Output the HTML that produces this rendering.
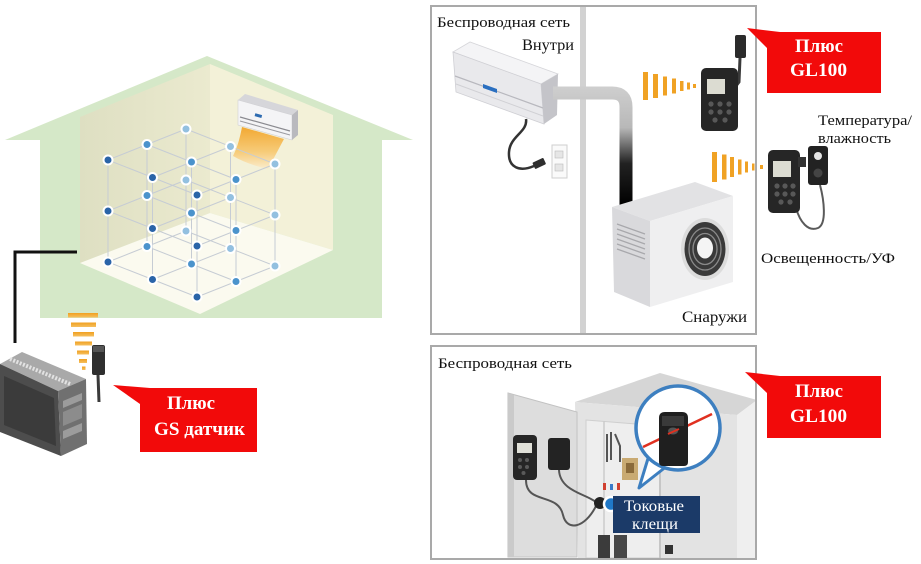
<!DOCTYPE html>
<html><head><meta charset="utf-8">
<style>
html,body{margin:0;padding:0;background:#fff;}
svg{display:block}
text{font-family:"Liberation Serif","DejaVu Serif",serif;}
</style></head>
<body>
<svg width="921" height="564" viewBox="0 0 921 564" xmlns="http://www.w3.org/2000/svg">
<defs>
<linearGradient id="lw" x1="0" y1="0" x2="1" y2="0"><stop offset="0" stop-color="#dedfc2"/><stop offset="1" stop-color="#ebeacf"/></linearGradient>
<linearGradient id="air" x1="0" y1="0" x2="0" y2="1"><stop offset="0" stop-color="#f2a020"/><stop offset="0.6" stop-color="#f7c870"/><stop offset="1" stop-color="#fbeccc"/></linearGradient>
<linearGradient id="pipe" gradientUnits="userSpaceOnUse" x1="0" y1="86" x2="0" y2="205"><stop offset="0" stop-color="#cfcfcf"/><stop offset="0.35" stop-color="#b8b8b8"/><stop offset="0.65" stop-color="#222"/><stop offset="1" stop-color="#000"/></linearGradient>
<linearGradient id="wave" x1="0" y1="0" x2="0" y2="1"><stop offset="0" stop-color="#f0a020"/><stop offset="1" stop-color="#f5c060"/></linearGradient>
</defs>

<!-- ================= HOUSE ================= -->
<polygon points="5,140 207,56 413,140 382,140 382,318 40,318 40,140" fill="#d5e8c8"/>
<polygon points="80,117 210,64 210,213 80,263" fill="url(#lw)"/>
<polygon points="210,64 333,115 333,250 210,213" fill="#f3f1d8"/>
<polygon points="80,263 210,213 333,250 200,314" fill="#fbfaef"/>

<!-- AC in house -->
<polygon points="238,100 245,94 298,110 292,115" fill="#d6d6da"/>
<polygon points="238,100 292,115 292,140 238,125" fill="#f4f4f6" stroke="#d0d0d4" stroke-width="0.6"/>
<polygon points="292,115 298,110 298,135 292,140" fill="#b9b9be"/>
<line x1="240" y1="117" x2="290" y2="131" stroke="#8a8a90" stroke-width="1.2"/>
<line x1="240" y1="121" x2="290" y2="135" stroke="#9a9aa0" stroke-width="1"/>
<rect x="255" y="114" width="7" height="3" fill="#2c6ab0" transform="rotate(15 258 115)"/>
<path d="M242,127 L284,139 C278,150 273,160 268,169 C255,166 243,162 233,156 C238,146 240,137 242,127 Z" fill="url(#air)" opacity="0.9"/>

<!-- lattice lines -->
<path d="M197,297 L275,266 M152.5,279.5 L230.5,248.5 M108,262 L186,231 M197,297 L108,262 M236,281.5 L147,246.5 M275,266 L186,231
M197,246 L275,215 M152.5,228.5 L230.5,197.5 M108,211 L186,180 M197,246 L108,211 M236,230.5 L147,195.5 M275,215 L186,180
M197,195 L275,164 M152.5,177.5 L230.5,146.5 M108,160 L186,129 M197,195 L108,160 M236,179.5 L147,144.5 M275,164 L186,129
M197,297 V195 M152.5,279.5 V177.5 M108,262 V160 M236,281.5 V179.5 M191.5,264 V162 M147,246.5 V144.5 M275,266 V164 M230.5,248.5 V146.5 M186,231 V129"
 stroke="#c6ccd4" stroke-width="1" fill="none"/>
<!-- lattice dots -->
<g stroke="#fff" stroke-width="2">
<g fill="#93c0e0">
<circle cx="186" cy="231" r="4.5"/><circle cx="230.5" cy="248.5" r="4.5"/><circle cx="275" cy="266" r="4.5"/>
<circle cx="186" cy="180" r="4.5"/><circle cx="230.5" cy="197.5" r="4.5"/><circle cx="275" cy="215" r="4.5"/>
<circle cx="186" cy="129" r="4.5"/><circle cx="230.5" cy="146.5" r="4.5"/><circle cx="275" cy="164" r="4.5"/>
</g>
<g fill="#4b93cc">
<circle cx="147" cy="246.5" r="4.5"/><circle cx="191.5" cy="264" r="4.5"/><circle cx="236" cy="281.5" r="4.5"/>
<circle cx="147" cy="195.5" r="4.5"/><circle cx="191.5" cy="213" r="4.5"/><circle cx="236" cy="230.5" r="4.5"/>
<circle cx="147" cy="144.5" r="4.5"/><circle cx="191.5" cy="162" r="4.5"/><circle cx="236" cy="179.5" r="4.5"/>
</g>
<g fill="#2a64a8">
<circle cx="108" cy="262" r="4.5"/><circle cx="152.5" cy="279.5" r="4.5"/><circle cx="197" cy="297" r="4.5"/>
<circle cx="108" cy="211" r="4.5"/><circle cx="152.5" cy="228.5" r="4.5"/><circle cx="197" cy="246" r="4.5"/>
<circle cx="108" cy="160" r="4.5"/><circle cx="152.5" cy="177.5" r="4.5"/><circle cx="197" cy="195" r="4.5"/>
</g>
</g>

<!-- black cable -->
<path d="M77,252 H15 V343" stroke="#111" stroke-width="3" fill="none"/>

<!-- signal wedge (horizontal bars) -->
<g fill="url(#wave)">
<rect x="68" y="313" width="30" height="4.5"/>
<rect x="71" y="322.5" width="25" height="4.5"/>
<rect x="73" y="332" width="21" height="4.5"/>
<rect x="75" y="341.5" width="17" height="4"/>
<rect x="77" y="350.5" width="12" height="4"/>
<rect x="79" y="359" width="8" height="4"/>
<rect x="82" y="366.5" width="3.5" height="3.5"/>
</g>

<!-- data logger -->
<polygon points="0,364 22,352 86,379 58,391" fill="#a9a9a9"/>
<line x1="10" y1="359" x2="70" y2="384" stroke="#e2e2e2" stroke-width="4" stroke-dasharray="2 1.5"/>
<polygon points="0,364 58,391 61,456 0,432" fill="#4d4d4d"/>
<polygon points="4,376 54,398 56,446 4,425" fill="#3b3b3b"/>
<polygon points="58,391 86,379 87,444 61,456" fill="#707070"/>
<polygon points="63,401 82,393 82,400 63,408" fill="#9c9c9c"/>
<polygon points="63,412 82,404 82,418 63,426" fill="#8c8c8c"/>
<polygon points="63,431 82,423 82,431 63,439" fill="#9c9c9c"/>
<!-- GS sensor -->
<rect x="92" y="345" width="13" height="30" rx="2" fill="#2f2f2f"/>
<rect x="93" y="346" width="11" height="6" fill="#555"/>
<line x1="98" y1="375" x2="99" y2="402" stroke="#3a3a3a" stroke-width="3"/>

<!-- GS callout -->
<polygon points="113,385 150,388 140,404" fill="#f20a0a"/>
<rect x="140" y="388" width="117" height="64" fill="#f20a0a"/>
<text x="191" y="409" font-size="19" font-weight="bold" fill="#fff" text-anchor="middle" textLength="48" lengthAdjust="spacingAndGlyphs">Плюс</text>
<text x="199.5" y="435" font-size="19" font-weight="bold" fill="#fff" text-anchor="middle" textLength="91" lengthAdjust="spacingAndGlyphs">GS датчик</text>

<!-- ================= TOP PANEL ================= -->
<rect x="580" y="6" width="6" height="328" fill="#d2d2d2"/>

<!-- indoor AC -->
<polygon points="453,52 470,42 558,74 541,84" fill="#f4f4f6" stroke="#d6d6da" stroke-width="0.8"/>
<polygon points="453,52 541,84 544,124 456,92" fill="#e9e9ec" stroke="#cfcfd4" stroke-width="0.8"/>
<line x1="455" y1="76" x2="543" y2="108" stroke="#b8b8be" stroke-width="1.2"/>
<line x1="456" y1="84" x2="543" y2="116" stroke="#d0d0d4" stroke-width="1"/>
<polygon points="483,84 497,89 497,93 483,88" fill="#2a6fc0"/>
<polygon points="541,84 558,74 557,115 544,124" fill="#c4c4c9"/>
<!-- power cord & outlet -->
<rect x="552" y="145" width="15" height="33" fill="#fafafa" stroke="#cfcfcf"/>
<rect x="555" y="151" width="8" height="7" fill="#e6e6e6" stroke="#bbb" stroke-width="0.6"/>
<rect x="555" y="164" width="8" height="7" fill="#e6e6e6" stroke="#bbb" stroke-width="0.6"/>
<path d="M526,119 C528,132 510,136 509,152 C508,168 520,172 534,166" stroke="#333" stroke-width="2.5" fill="none"/>
<rect x="533" y="160" width="12" height="7" rx="1" fill="#2e2e2e" transform="rotate(-25 539 163)"/>

<!-- pipe -->
<path d="M553,93 H612 Q626,93 626,107 V206" stroke="url(#pipe)" stroke-width="13" fill="none"/>

<!-- outdoor unit -->
<polygon points="612,207 650,221 733,196 695,182" fill="#e2e2e4"/>
<polygon points="612,207 650,221 650,307 614,292" fill="#d9d9dc"/>
<polygon points="650,221 733,196 733,282 650,307" fill="#efeff0"/>
<g stroke="#a8a8ac" stroke-width="1.3">
<line x1="617" y1="224" x2="645" y2="234"/>
<line x1="617" y1="229" x2="645" y2="239"/>
<line x1="617" y1="234" x2="645" y2="244"/>
<line x1="617" y1="239" x2="645" y2="249"/>
<line x1="617" y1="244" x2="645" y2="254"/>
<line x1="617" y1="249" x2="645" y2="259"/>
</g>
<ellipse cx="705" cy="249" rx="24" ry="31" fill="#dcdcdc"/>
<ellipse cx="705" cy="249" rx="20.5" ry="27" fill="#3a3a3a"/>
<ellipse cx="705" cy="249" rx="16" ry="21" fill="none" stroke="#8a8a8a" stroke-width="1.3"/>
<ellipse cx="705" cy="249" rx="12" ry="15.5" fill="none" stroke="#8a8a8a" stroke-width="1.3"/>
<ellipse cx="705" cy="248" rx="8" ry="10.5" fill="#f4f4f4"/>

<!-- wedge 1 -->
<g fill="#f0a224">
<rect x="643" y="72" width="5" height="28"/>
<rect x="653" y="74" width="5" height="24"/>
<rect x="663" y="76.5" width="4" height="19"/>
<rect x="672" y="78.5" width="4" height="15"/>
<rect x="680" y="81" width="3.5" height="10"/>
<rect x="687" y="82.5" width="3" height="7"/>
<rect x="693" y="84" width="3" height="4"/>
</g>
<!-- wedge 2 -->
<g fill="#f0a224">
<rect x="712" y="152" width="5" height="30"/>
<rect x="722" y="154.5" width="4.5" height="25"/>
<rect x="730" y="157" width="4" height="20"/>
<rect x="738" y="159.5" width="3.5" height="15"/>
<rect x="745" y="161.5" width="3" height="11"/>
<rect x="752" y="163.5" width="2.5" height="7"/>
<rect x="760" y="165" width="3" height="4"/>
</g>

<!-- GL100 device 1 -->
<rect x="735" y="35" width="11" height="23" rx="2" fill="#2b2b2b"/>
<path d="M740,58 L739,82 L736,86" stroke="#3a3a3a" stroke-width="3" fill="none"/>
<rect x="701" y="68" width="37" height="63" rx="5" fill="#262626"/>
<rect x="707" y="79" width="18" height="15" fill="#dcdcd2"/>
<g fill="#585858">
<circle cx="711" cy="104" r="2.6"/><circle cx="720" cy="104" r="2.6"/><circle cx="729" cy="104" r="2.6"/>
<circle cx="711" cy="112" r="2.6"/><circle cx="720" cy="112" r="2.6"/><circle cx="729" cy="112" r="2.6"/>
<circle cx="715" cy="120" r="2.6"/><circle cx="725" cy="120" r="2.6"/>
</g>
<!-- GL100 device 2 -->
<path d="M820,185 C824,200 827,224 818,228 C808,232 800,222 796,208" stroke="#5a5a5a" stroke-width="2" fill="none"/>
<rect x="768" y="150" width="32" height="63" rx="5" fill="#262626"/>
<rect x="773" y="161" width="18" height="16" fill="#dcdcd2"/>
<g fill="#585858">
<circle cx="777" cy="186" r="2.6"/><circle cx="785" cy="186" r="2.6"/><circle cx="793" cy="186" r="2.6"/>
<circle cx="777" cy="194" r="2.6"/><circle cx="785" cy="194" r="2.6"/><circle cx="793" cy="194" r="2.6"/>
<circle cx="781" cy="202" r="2.6"/><circle cx="790" cy="202" r="2.6"/>
</g>
<rect x="798" y="157" width="8" height="10" fill="#333"/>
<rect x="808" y="146" width="20" height="39" rx="3" fill="#222"/>
<circle cx="818" cy="156" r="4" fill="#e6e6e6"/>
<circle cx="818" cy="173" r="4.5" fill="#444"/>

<!-- top panel text -->
<text x="437" y="27" font-size="15" fill="#111" textLength="133" lengthAdjust="spacingAndGlyphs">Беспроводная сеть</text>
<text x="522" y="50" font-size="15.5" fill="#111" textLength="52" lengthAdjust="spacingAndGlyphs">Внутри</text>
<text x="818" y="125" font-size="15" fill="#111" textLength="94" lengthAdjust="spacingAndGlyphs">Температура/</text>
<text x="818" y="143" font-size="15" fill="#111" textLength="73" lengthAdjust="spacingAndGlyphs">влажность</text>
<text x="761" y="263" font-size="15" fill="#111" textLength="134" lengthAdjust="spacingAndGlyphs">Освещенность/УФ</text>
<text x="682" y="322" font-size="16" fill="#111" textLength="65" lengthAdjust="spacingAndGlyphs">Снаружи</text>

<rect x="431" y="6" width="325" height="328" fill="none" stroke="#a9a9a9" stroke-width="2"/>

<!-- top callout -->
<polygon points="747,28 780,32 767,48" fill="#f20a0a"/>
<rect x="767" y="32" width="114" height="61" fill="#f20a0a"/>
<text x="819" y="52" font-size="19" font-weight="bold" fill="#fff" text-anchor="middle" textLength="48" lengthAdjust="spacingAndGlyphs">Плюс</text>
<text x="818.5" y="76" font-size="19" font-weight="bold" fill="#fff" text-anchor="middle" textLength="57" lengthAdjust="spacingAndGlyphs">GL100</text>

<!-- ================= BOTTOM PANEL ================= -->
<!-- cabinet -->
<polygon points="575,402 660,373 757,400 737,415" fill="#d6d6d6"/>
<polygon points="575,402 737,415 737,558 578,558" fill="#e3e3e3"/>
<polygon points="737,415 757,400 757,558 737,558" fill="#efefef"/>
<polygon points="586,420 660,426 660,558 586,558" fill="#eeeeee" stroke="#cfcfcf" stroke-width="1"/>
<line x1="604" y1="421" x2="604" y2="558" stroke="#cccccc" stroke-width="1.5"/>
<line x1="660" y1="426" x2="660" y2="558" stroke="#c6c6c6" stroke-width="2"/>
<!-- door -->
<polygon points="508,393 577,412 577,557 508,557" fill="#dddddd" stroke="#c2c2c2" stroke-width="1"/>
<polygon points="508,393 514,395 514,557 508,557" fill="#cacaca"/>
<!-- interior parts -->
<g stroke="#555" stroke-width="2" fill="none">
<path d="M607,434 V462 M611,432 V460 M615,434 L620,446 V462"/>
</g>
<rect x="622" y="458" width="16" height="22" fill="#c9aa72"/>
<rect x="626" y="463" width="8" height="10" fill="#8a6a3a"/>
<rect x="603" y="483" width="3" height="7" fill="#d04030"/>
<rect x="610" y="484" width="3" height="6" fill="#3a7ac8"/>
<rect x="617" y="483" width="3" height="7" fill="#d04030"/>
<rect x="598" y="535" width="12" height="23" fill="#3b3b3b"/>
<rect x="614" y="535" width="13" height="23" fill="#474747"/>
<rect x="665" y="545" width="8" height="9" fill="#333"/>
<!-- devices on door -->
<path d="M526,480 C526,505 558,492 563,515 C567,532 585,528 596,506" stroke="#555" stroke-width="2" fill="none"/>
<path d="M559,470 C560,492 588,494 597,503" stroke="#555" stroke-width="2" fill="none"/>
<rect x="513" y="435" width="24" height="45" rx="4" fill="#262626"/>
<rect x="517" y="443" width="15" height="10" fill="#e0e0d8"/>
<g fill="#5a5a5a"><circle cx="520" cy="460" r="2"/><circle cx="527" cy="460" r="2"/><circle cx="520" cy="467" r="2"/><circle cx="527" cy="467" r="2"/><circle cx="523.5" cy="473" r="2"/></g>
<rect x="548" y="438" width="22" height="32" rx="3" fill="#232323"/>
<circle cx="600" cy="503" r="6" fill="#222"/>
<circle cx="611" cy="504" r="7" fill="#1f78c8" stroke="#fff" stroke-width="2.5"/>

<!-- magnifier -->
<polygon points="650,452 639,488 667,466" fill="#fff" stroke="#3d7fc0" stroke-width="3" stroke-linejoin="round"/>
<circle cx="678" cy="428" r="42" fill="#fff" stroke="#3d7fc0" stroke-width="3.5"/>
<line x1="643" y1="447" x2="712" y2="414" stroke="#e03020" stroke-width="2.5"/>
<path d="M659,418 Q659,412 665,412 H682 Q688,412 688,418 V462 Q688,466 684,466 H663 Q659,466 659,462 Z" fill="#1f1f1f"/>
<rect x="662" y="416" width="22" height="10" fill="#3a3a3a"/>
<ellipse cx="673" cy="431" rx="5" ry="3.5" fill="#555"/>
<line x1="668" y1="434" x2="679" y2="429" stroke="#e03020" stroke-width="2"/>

<!-- label -->
<rect x="613" y="496" width="87" height="37" fill="#1b3a68"/>
<text x="654" y="511" font-size="16" fill="#fff" text-anchor="middle" textLength="60" lengthAdjust="spacingAndGlyphs">Токовые</text>
<text x="655" y="529" font-size="16" fill="#fff" text-anchor="middle" textLength="46" lengthAdjust="spacingAndGlyphs">клещи</text>

<text x="438" y="368" font-size="15" fill="#111" textLength="134" lengthAdjust="spacingAndGlyphs">Беспроводная сеть</text>
<rect x="431" y="346" width="325" height="213" fill="none" stroke="#a9a9a9" stroke-width="2"/>

<!-- bottom callout -->
<polygon points="745,372 780,376 767,393" fill="#f20a0a"/>
<rect x="767" y="376" width="114" height="62" fill="#f20a0a"/>
<text x="819" y="397" font-size="19" font-weight="bold" fill="#fff" text-anchor="middle" textLength="48" lengthAdjust="spacingAndGlyphs">Плюс</text>
<text x="818.5" y="422" font-size="19" font-weight="bold" fill="#fff" text-anchor="middle" textLength="57" lengthAdjust="spacingAndGlyphs">GL100</text>
</svg>
</body></html>
